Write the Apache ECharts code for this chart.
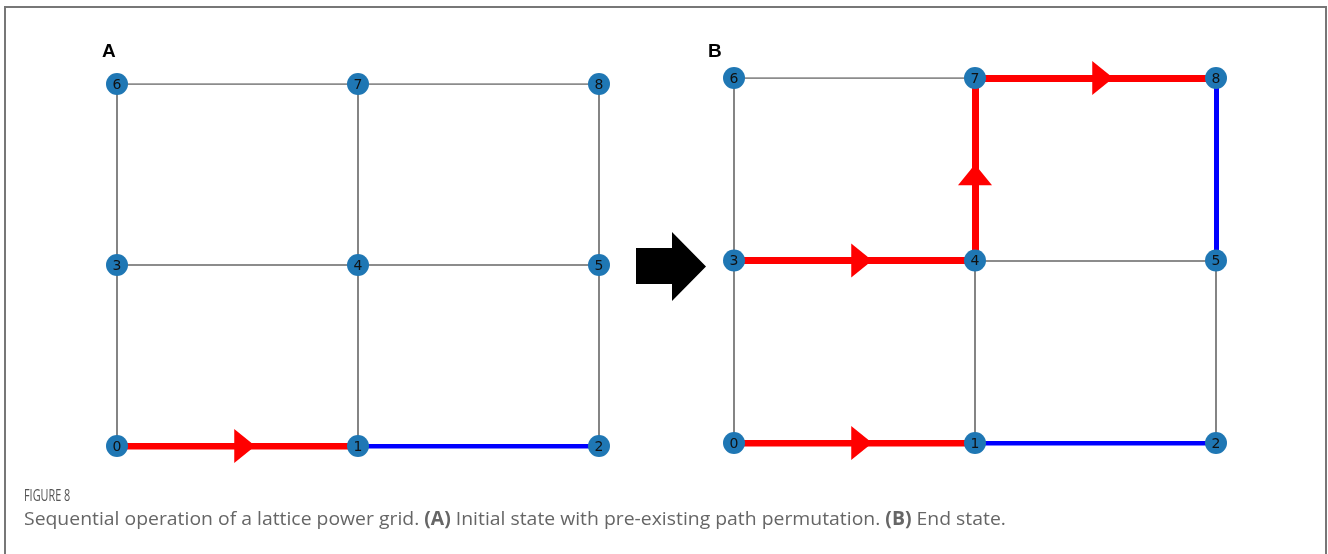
<!DOCTYPE html>
<html>
<head>
<meta charset="utf-8">
<script src="https://cdn.jsdelivr.net/npm/echarts@6/dist/echarts.min.js"></script>
<style>html,body{margin:0;padding:0;background:#fff}#c{width:1328px;height:554px}</style>
</head>
<body>
<div id="c"></div>
<script>
// Lattice: node id -> (col,row)
const nodeIds = [0, 1, 2, 3, 4, 5, 6, 7, 8];
const nodeCols = [0, 1, 2, 0, 1, 2, 0, 1, 2];
const nodeRows = [0, 0, 0, 1, 1, 1, 2, 2, 2];
const gridEdges = [[0,1],[1,2],[3,4],[4,5],[6,7],[7,8],[0,3],[3,6],[1,4],[4,7],[2,5],[5,8]];
const redPathA = [[0,1]];
const bluePathA = [[1,2]];
const redPathB = [[0,1],[3,4],[4,7],[7,8]];
const bluePathB = [[1,2],[8,5]];
const panelLabels = ['A', 'B'];
const figureLabel = 'FIGURE 8';

const pos = id => [nodeCols[id], nodeRows[id]];
const toLines = edges => edges.map(e => ({coords: [pos(e[0]), pos(e[1])]}));
function arrows(edges) {
  return edges.map(e => {
    const a = pos(e[0]), b = pos(e[1]);
    const dx = b[0] - a[0], dy = b[1] - a[1];
    const t = dy !== 0 ? 0.47 : 0.53;
    let rot = 0;
    if (dx > 0) rot = -90; else if (dx < 0) rot = 90; else if (dy > 0) rot = 0; else rot = 180;
    return {value: [a[0] + dx * t, a[1] + dy * t], symbolRotate: rot};
  });
}

function panelSeries(idx, red, blue) {
  return [
    {type: 'lines', coordinateSystem: 'cartesian2d', xAxisIndex: idx, yAxisIndex: idx, z: 1,
     data: toLines(gridEdges), lineStyle: {color: '#666', width: 1.6, opacity: 1}, silent: true, animation: false},
    {type: 'lines', coordinateSystem: 'cartesian2d', xAxisIndex: idx, yAxisIndex: idx, z: 2,
     data: toLines(blue), lineStyle: {color: '#0000ff', width: 5, opacity: 1}, silent: true, animation: false},
    {type: 'lines', coordinateSystem: 'cartesian2d', xAxisIndex: idx, yAxisIndex: idx, z: 3,
     data: toLines(red), lineStyle: {color: '#ff0000', width: 7, opacity: 1}, silent: true, animation: false},
    {type: 'scatter', xAxisIndex: idx, yAxisIndex: idx, z: 4, symbol: 'triangle', symbolSize: [34, 21],
     data: arrows(red), itemStyle: {color: '#ff0000', opacity: 1}, silent: true, animation: false},
    {type: 'scatter', xAxisIndex: idx, yAxisIndex: idx, z: 5, symbolSize: 22,
     data: nodeIds.map(id => ({value: pos(id), name: String(id)})),
     itemStyle: {color: '#1f77b4', opacity: 1},
     label: {show: true, formatter: p => p.name, position: 'inside', align: 'center', verticalAlign: 'middle',
             color: '#111', fontSize: 14, fontFamily: 'DejaVu Sans', offset: [0, 1]},
     silent: true, animation: false}
  ];
}

const axisCommon = {type: 'value', min: 0, max: 2, show: false};
const option = {
  animation: false,
  grid: [
    {left: 117, top: 84, width: 482, height: 362},
    {left: 734, top: 78, width: 482, height: 365}
  ],
  xAxis: [Object.assign({gridIndex: 0}, axisCommon), Object.assign({gridIndex: 1}, axisCommon)],
  yAxis: [Object.assign({gridIndex: 0}, axisCommon), Object.assign({gridIndex: 1}, axisCommon)],
  series: [].concat(panelSeries(0, redPathA, bluePathA), panelSeries(1, redPathB, bluePathB)),
  graphic: [
    {type: 'polyline', shape: {points: [[5, 554], [5, 7], [1326, 7], [1326, 554]]},
     style: {stroke: '#777', lineWidth: 2, fill: null}, silent: true},
    {type: 'polygon', shape: {points: [[636, 248], [672, 248], [672, 232], [706, 266.5], [672, 301], [672, 284], [636, 284]]},
     style: {fill: '#000'}, silent: true},
    {type: 'text', left: 102, top: 42, style: {text: panelLabels[0], font: 'bold 19px Liberation Sans, Arial', fill: '#000'}},
    {type: 'text', left: 708, top: 42, style: {text: panelLabels[1], font: 'bold 19px Liberation Sans, Arial', fill: '#000'}},
    {type: 'text', x: 24, y: 488, scaleX: 0.64, style: {text: figureLabel, font: '17px Open Sans', fill: '#555'}},
    {type: 'text', x: 24, y: 510, scaleX: 1.02, style: {
      rich: {n: {font: '19px Open Sans', fill: '#666'}, b: {font: 'bold 19px Open Sans', fill: '#666'}},
      text: '{n|Sequential operation of a lattice power grid. }{b|(A)}{n| Initial state with pre-existing path permutation. }{b|(B)}{n| End state.}'
    }}
  ]
};
echarts.init(document.getElementById('c'), null, {renderer: 'canvas'}).setOption(option);
</script>
</body>
</html>
